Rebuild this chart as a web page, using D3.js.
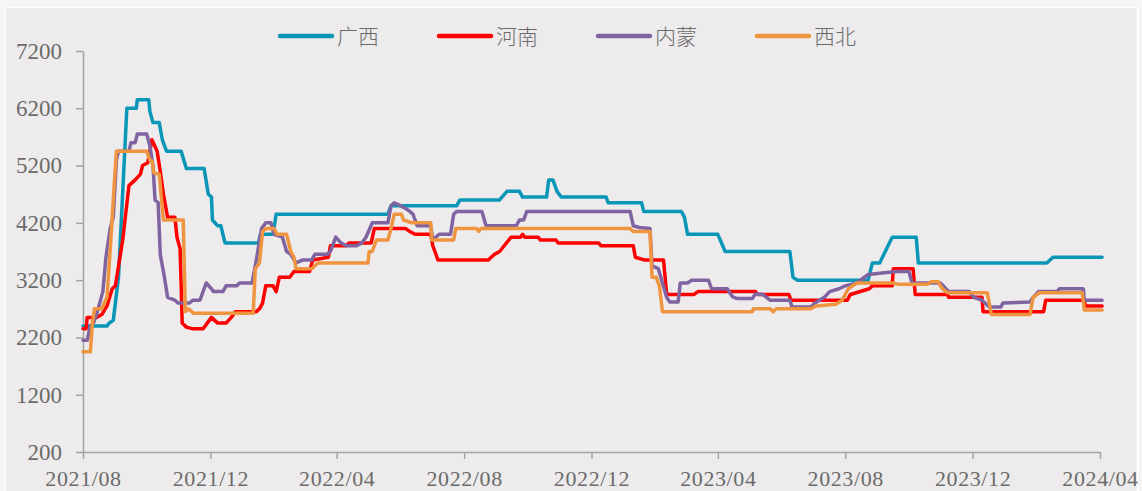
<!DOCTYPE html>
<html>
<head>
<meta charset="utf-8">
<script src="https://cdn.jsdelivr.net/npm/d3@7"></script>
<style>
  body { margin: 0; background: #f5f5f5; }
</style>
</head>
<body>
<svg id="chart" width="1142" height="491"></svg>
<script>
// series names (legend order)
const seriesNames = ["广西", "河南", "内蒙", "西北"];

// axis ticks
const yTicks = [200, 1200, 2200, 3200, 4200, 5200, 6200, 7200];
const xTickLabels = ["2021/08", "2021/12", "2022/04", "2022/08", "2022/12", "2023/04", "2023/08", "2023/12", "2024/04"];

// price series: [date, value]
const gxData = [
  ["2021-08-01",2400],["2021-08-24",2400],["2021-08-26",2450],["2021-08-30",2500],["2021-09-04",3250],
  ["2021-09-12",6200],["2021-09-21",6200],["2021-09-22",6350],["2021-10-03",6350],["2021-10-04",6150],
  ["2021-10-07",5950],["2021-10-13",5950],["2021-10-16",5650],["2021-10-20",5450],["2021-11-03",5450],
  ["2021-11-08",5150],["2021-11-25",5150],["2021-11-29",4700],["2021-12-02",4650],["2021-12-03",4250],
  ["2021-12-08",4150],["2021-12-11",4150],["2021-12-15",3850],["2022-01-16",3850],["2022-01-18",4000],
  ["2022-01-30",4000],["2022-02-02",4350],["2022-05-20",4350],["2022-05-23",4500],["2022-07-25",4500],
  ["2022-07-28",4600],["2022-09-04",4600],["2022-09-11",4750],["2022-09-23",4750],["2022-09-26",4650],
  ["2022-10-19",4650],["2022-10-21",4950],["2022-10-25",4950],["2022-10-29",4750],["2022-11-02",4650],
  ["2022-12-15",4650],["2022-12-17",4550],["2023-01-18",4550],["2023-01-20",4400],["2023-02-25",4400],
  ["2023-02-28",4300],["2023-03-03",4000],["2023-04-01",4000],["2023-04-08",3700],["2023-06-09",3700],
  ["2023-06-12",3250],["2023-06-16",3200],["2023-08-23",3200],["2023-08-27",3500],["2023-09-03",3500],
  ["2023-09-15",3950],["2023-10-08",3950],["2023-10-10",3500],["2024-02-10",3500],["2024-02-16",3600],
  ["2024-04-03",3600]
];
const hnData = [
  ["2021-08-01",2350],["2021-08-04",2350],["2021-08-05",2550],["2021-08-14",2550],["2021-08-19",2600],
  ["2021-08-24",2750],["2021-08-29",3050],["2021-09-01",3100],["2021-09-08",3900],["2021-09-14",4850],
  ["2021-09-20",4950],["2021-09-25",5050],["2021-09-27",5200],["2021-10-02",5250],["2021-10-06",5650],
  ["2021-10-11",5450],["2021-10-14",5100],["2021-10-17",4700],["2021-10-21",4300],["2021-10-28",4300],
  ["2021-10-30",3950],["2021-11-02",3750],["2021-11-04",2450],["2021-11-08",2380],["2021-11-14",2350],
  ["2021-11-24",2350],["2021-11-28",2450],["2021-12-02",2550],["2021-12-08",2450],["2021-12-16",2450],
  ["2021-12-21",2550],["2021-12-25",2650],["2022-01-14",2650],["2022-01-17",2700],["2022-01-20",2800],
  ["2022-01-23",3100],["2022-01-30",3100],["2022-02-02",3000],["2022-02-05",3250],["2022-02-15",3250],
  ["2022-02-19",3350],["2022-03-06",3350],["2022-03-09",3550],["2022-03-24",3600],["2022-03-26",3800],
  ["2022-04-10",3800],["2022-04-13",3850],["2022-05-04",3850],["2022-05-07",4100],["2022-06-06",4100],
  ["2022-06-10",4050],["2022-06-15",4000],["2022-06-30",4000],["2022-07-02",3800],["2022-07-07",3550],
  ["2022-08-24",3550],["2022-08-27",3600],["2022-08-30",3650],["2022-09-04",3700],["2022-09-15",3950],
  ["2022-09-24",3950],["2022-09-26",4000],["2022-09-28",3950],["2022-10-11",3950],["2022-10-13",3900],
  ["2022-10-28",3900],["2022-10-30",3850],["2022-12-08",3850],["2022-12-10",3800],["2023-01-10",3800],
  ["2023-01-12",3600],["2023-01-21",3550],["2023-02-08",3550],["2023-02-11",2950],["2023-03-09",2950],
  ["2023-03-13",3000],["2023-05-07",3000],["2023-05-09",2950],["2023-06-08",2950],["2023-06-10",2850],
  ["2023-08-03",2850],["2023-08-06",2950],["2023-08-24",3050],["2023-08-27",3100],["2023-09-15",3100],
  ["2023-09-16",3400],["2023-10-05",3400],["2023-10-07",2950],["2023-11-07",2950],["2023-11-08",2900],
  ["2023-12-10",2900],["2023-12-11",2650],["2024-02-07",2650],["2024-02-09",2850],["2024-03-17",2850],
  ["2024-03-18",2750],["2024-04-03",2750]
];
const nmData = [
  ["2021-08-01",2150],["2021-08-05",2150],["2021-08-08",2400],["2021-08-11",2450],["2021-08-14",2600],
  ["2021-08-20",3000],["2021-08-23",3600],["2021-08-27",4100],["2021-08-30",4300],["2021-09-02",5300],
  ["2021-09-04",5450],["2021-09-14",5450],["2021-09-16",5600],["2021-09-20",5600],["2021-09-22",5750],
  ["2021-10-01",5750],["2021-10-04",5550],["2021-10-07",5200],["2021-10-09",4600],["2021-10-12",4550],
  ["2021-10-14",3650],["2021-10-18",3250],["2021-10-21",2900],["2021-10-28",2850],["2021-10-31",2800],
  ["2021-11-11",2800],["2021-11-14",2850],["2021-11-21",2850],["2021-11-27",3150],["2021-12-02",3050],
  ["2021-12-04",3000],["2021-12-13",3000],["2021-12-16",3100],["2021-12-26",3100],["2021-12-29",3150],
  ["2022-01-10",3150],["2022-01-14",3550],["2022-01-19",4100],["2022-01-23",4200],["2022-01-28",4200],
  ["2022-01-31",4000],["2022-02-08",3950],["2022-02-12",3700],["2022-02-16",3650],["2022-02-21",3500],
  ["2022-02-27",3550],["2022-03-08",3550],["2022-03-11",3650],["2022-03-23",3650],["2022-03-26",3700],
  ["2022-03-31",3950],["2022-04-05",3850],["2022-04-10",3800],["2022-04-20",3800],["2022-04-25",3850],
  ["2022-04-29",3950],["2022-05-05",4200],["2022-05-20",4200],["2022-05-23",4500],["2022-05-26",4550],
  ["2022-06-01",4500],["2022-06-06",4450],["2022-06-10",4400],["2022-06-13",4350],["2022-06-17",4150],
  ["2022-06-30",4150],["2022-07-02",3900],["2022-07-08",4000],["2022-07-19",4000],["2022-07-22",4350],
  ["2022-07-25",4400],["2022-08-18",4400],["2022-08-22",4150],["2022-09-20",4150],["2022-09-23",4250],
  ["2022-09-27",4250],["2022-09-30",4400],["2023-01-07",4400],["2023-01-10",4150],["2023-01-16",4120],
  ["2023-01-26",4100],["2023-01-28",3450],["2023-02-03",3400],["2023-02-07",3150],["2023-02-11",2900],
  ["2023-02-14",2820],["2023-02-22",2820],["2023-02-24",3150],["2023-03-03",3150],["2023-03-07",3200],
  ["2023-03-23",3200],["2023-03-26",3050],["2023-04-10",3050],["2023-04-15",2910],["2023-04-19",2880],
  ["2023-05-04",2880],["2023-05-07",2960],["2023-05-14",2950],["2023-05-21",2850],["2023-06-09",2850],
  ["2023-06-11",2730],["2023-06-29",2730],["2023-07-03",2800],["2023-07-12",2900],["2023-07-17",3000],
  ["2023-07-26",3050],["2023-08-01",3100],["2023-08-12",3150],["2023-08-23",3300],["2023-09-03",3320],
  ["2023-09-20",3350],["2023-10-01",3350],["2023-10-04",3150],["2023-10-31",3150],["2023-11-03",3100],
  ["2023-11-08",3000],["2023-11-28",3000],["2023-12-02",2900],["2023-12-10",2850],["2023-12-17",2730],
  ["2023-12-28",2730],["2023-12-30",2800],["2024-01-25",2820],["2024-01-28",2900],["2024-02-02",3000],
  ["2024-02-20",3000],["2024-02-22",3050],["2024-03-16",3050],["2024-03-17",2850],["2024-04-03",2850]
];
const xbData = [
  ["2021-08-01",1950],["2021-08-08",1950],["2021-08-10",2450],["2021-08-12",2700],["2021-08-19",2700],
  ["2021-08-24",2900],["2021-08-28",4000],["2021-08-31",4900],["2021-09-02",5450],["2021-10-01",5450],
  ["2021-10-04",5300],["2021-10-06",5280],["2021-10-08",5070],["2021-10-13",5050],["2021-10-15",4650],
  ["2021-10-17",4250],["2021-11-05",4250],["2021-11-07",2650],["2021-11-10",2700],["2021-11-15",2620],
  ["2022-01-11",2620],["2022-01-13",3400],["2022-01-17",3500],["2022-01-20",4050],["2022-01-23",4100],
  ["2022-01-31",4100],["2022-02-03",4000],["2022-02-12",4000],["2022-02-16",3700],["2022-02-19",3600],
  ["2022-02-21",3400],["2022-03-08",3400],["2022-03-14",3500],["2022-05-01",3500],["2022-05-02",3700],
  ["2022-05-05",3700],["2022-05-09",3900],["2022-05-20",3900],["2022-05-23",4100],["2022-05-26",4350],
  ["2022-06-02",4350],["2022-06-04",4250],["2022-06-12",4200],["2022-06-30",4200],["2022-07-01",3900],
  ["2022-07-22",3900],["2022-07-24",4100],["2022-08-13",4100],["2022-08-15",4050],["2022-08-17",4100],
  ["2023-01-07",4100],["2023-01-10",4050],["2023-01-26",4050],["2023-01-28",3250],["2023-02-01",3250],
  ["2023-02-04",3100],["2023-02-07",2650],["2023-05-04",2650],["2023-05-05",2700],["2023-05-21",2700],
  ["2023-05-24",2650],["2023-05-27",2700],["2023-06-29",2700],["2023-07-04",2750],["2023-07-23",2780],
  ["2023-07-29",2850],["2023-08-04",3050],["2023-08-12",3150],["2023-09-16",3150],["2023-09-20",3130],
  ["2023-10-19",3130],["2023-10-22",3170],["2023-10-29",3170],["2023-11-02",3050],["2023-11-07",2980],
  ["2023-12-15",2980],["2023-12-19",2600],["2024-01-25",2600],["2024-01-28",2900],["2024-02-03",2980],
  ["2024-03-15",2980],["2024-03-17",2680],["2024-04-03",2680]
];

const seriesData = [gxData, hnData, nmData, xbData];
const seriesColors = ["#0a96b7", "#ff0000", "#8064a2", "#f0953f"];

const parseDate = d3.timeParse("%Y-%m-%d");
const parseMonth = d3.timeParse("%Y/%m");

const svg = d3.select("svg#chart");
const W = +svg.attr("width");
const H = +svg.attr("height");

// background panel
svg.append("rect").attr("x", 0).attr("y", 0).attr("width", W).attr("height", H).attr("fill", "#f5f5f5");
svg.append("rect")
  .attr("x", 5.5).attr("y", 7.5).attr("width", 1132).attr("height", 500)
  .attr("fill", "#edebec").attr("stroke", "#ffffff").attr("stroke-width", 1.5);

const x = d3.scaleTime()
  .domain([parseDate("2021-08-01"), parseDate("2024-04-01")])
  .range([83, 1100]);
const y = d3.scaleLinear().domain([200, 7200]).range([452, 51]);

const axisColor = "#a3a3a3";
const textColor = "#6b6b6b";

// y axis
const yAxis = svg.append("g")
  .attr("transform", "translate(83,0)")
  .call(d3.axisLeft(y).tickValues(yTicks).tickFormat(d3.format("d")).tickSize(7).tickPadding(14).tickSizeOuter(0));
yAxis.select(".domain").attr("stroke", axisColor).attr("stroke-width", 1.5);
yAxis.selectAll(".tick line").attr("stroke", axisColor).attr("stroke-width", 1.5);
yAxis.selectAll(".tick text")
  .attr("fill", textColor)
  .style("font-family", "'Liberation Serif', serif")
  .style("font-size", "23px");

// x axis
const xTickDates = xTickLabels.map(parseMonth);
const xAxis = svg.append("g")
  .attr("transform", "translate(0,452)")
  .call(d3.axisBottom(x).tickValues(xTickDates).tickFormat((d, i) => xTickLabels[i]).tickSize(7).tickPadding(11).tickSizeOuter(0));
xAxis.select(".domain").attr("stroke", axisColor).attr("stroke-width", 1.5);
xAxis.selectAll(".tick line").attr("stroke", axisColor).attr("stroke-width", 1.5);
xAxis.selectAll(".tick text")
  .attr("fill", textColor)
  .style("font-family", "'Liberation Serif', serif")
  .style("font-size", "22px")
  .style("letter-spacing", "0.6px");

// lines
const line = d3.line()
  .x(d => x(parseDate(d[0])))
  .y(d => y(d[1]));

svg.append("g")
  .selectAll("path.series")
  .data(seriesData)
  .join("path")
  .attr("class", "series")
  .attr("d", d => line(d))
  .attr("fill", "none")
  .attr("stroke", (d, i) => seriesColors[i])
  .attr("stroke-width", 3.5)
  .attr("stroke-linejoin", "round")
  .attr("stroke-linecap", "round");

// legend
const legend = svg.append("g").attr("transform", "translate(280,36)");
const item = legend.selectAll("g.item")
  .data(seriesNames)
  .join("g")
  .attr("class", "item")
  .attr("transform", (d, i) => `translate(${i * 159},0)`);
item.append("line")
  .attr("x1", 0).attr("x2", 52).attr("y1", 0).attr("y2", 0)
  .attr("stroke", (d, i) => seriesColors[i])
  .attr("stroke-width", 4.5)
  .attr("stroke-linecap", "round");
item.append("text")
  .attr("x", 57).attr("y", 0).attr("dy", "0.36em")
  .attr("fill", textColor)
  .style("font-family", "'Noto Sans CJK SC', sans-serif")
  .style("font-weight", 300)
  .style("font-size", "21px")
  .text(d => d);
</script>
</body>
</html>
